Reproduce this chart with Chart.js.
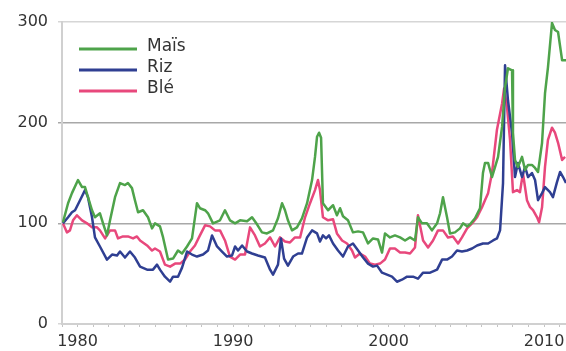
<!DOCTYPE html>
<html>
<head>
<meta charset="utf-8">
<script src="https://cdn.jsdelivr.net/npm/chart.js@4.4.1/dist/chart.umd.min.js"></script>
<style>
  html, body { margin: 0; padding: 0; background: #fff; }
  #wrap { width: 566px; height: 351px; position: relative; }
</style>
</head>
<body>
<div id="wrap"><canvas id="chartPrix"></canvas></div>
<script>
// indices de prix (base 100 = 1979)
const seriesLabels = ['Maïs', 'Riz', 'Blé'];
const yTicks = [0, 100, 200, 300];
const xLabelYears = [1980, 1990, 2000, 2010];

const maisYears = [1979.06,1979.39,1979.64,1980.03,1980.29,1980.48,1980.67,1980.93,1981.12,1981.44,1981.64,1981.89,1982.09,1982.41,1982.73,1983.05,1983.24,1983.50,1983.69,1983.89,1984.21,1984.53,1984.79,1984.98,1985.30,1985.50,1985.82,1986.14,1986.46,1986.72,1987.04,1987.36,1987.68,1987.87,1988.20,1988.39,1988.71,1989.16,1989.48,1989.80,1990.13,1990.45,1990.90,1991.22,1991.54,1991.86,1992.18,1992.57,1992.89,1993.15,1993.34,1993.53,1993.79,1994.11,1994.43,1994.76,1995.08,1995.27,1995.40,1995.53,1995.66,1995.78,1996.11,1996.43,1996.68,1996.88,1997.07,1997.39,1997.71,1998.04,1998.36,1998.68,1999.00,1999.32,1999.58,1999.77,2000.09,2000.41,2000.74,2001.06,2001.38,2001.70,2001.89,2002.15,2002.47,2002.79,2003.12,2003.31,2003.50,2003.76,2003.95,2004.27,2004.59,2004.79,2005.05,2005.24,2005.56,2005.88,2006.07,2006.20,2006.40,2006.65,2006.85,2007.04,2007.30,2007.49,2007.68,2007.94,2008.00,2008.13,2008.32,2008.58,2008.78,2008.97,2009.22,2009.42,2009.61,2009.87,2010.06,2010.25,2010.51,2010.70,2010.90,2011.16,2011.41];
const maisValues = [101,120,130,143,136,136,126,113,106,110,100,88,103,126,140,138,140,135,123,111,113,106,95,100,97,86,64,65,73,70,77,85,120,115,113,110,100,103,113,103,100,103,102,106,99,91,90,93,105,120,113,103,93,96,105,120,143,166,186,190,185,120,113,118,108,115,107,103,91,92,91,80,85,84,71,90,86,88,86,83,86,83,106,100,100,93,100,110,126,106,90,91,95,100,97,99,105,115,150,160,160,146,156,166,196,235,254,252,190,163,156,166,153,158,158,155,151,180,229,255,299,292,290,262,262];

const rizYears = [1979.06,1979.39,1979.64,1979.84,1980.16,1980.48,1980.67,1980.93,1981.12,1981.44,1981.89,1982.22,1982.54,1982.73,1983.05,1983.37,1983.69,1984.02,1984.47,1984.85,1985.11,1985.30,1985.62,1985.95,1986.14,1986.46,1986.72,1987.04,1987.36,1987.68,1988.07,1988.39,1988.65,1988.97,1989.29,1989.61,1989.93,1990.13,1990.32,1990.58,1990.90,1991.22,1991.60,1992.05,1992.38,1992.57,1992.89,1993.08,1993.28,1993.53,1993.86,1994.18,1994.43,1994.76,1995.08,1995.40,1995.59,1995.78,1995.98,1996.17,1996.43,1996.75,1997.07,1997.39,1997.71,1998.04,1998.36,1998.68,1999.00,1999.26,1999.58,1999.90,2000.22,2000.54,2000.86,2001.19,2001.57,2001.89,2002.22,2002.67,2003.12,2003.44,2003.76,2004.08,2004.40,2004.72,2005.05,2005.37,2005.69,2006.07,2006.40,2006.72,2006.97,2007.17,2007.36,2007.49,2007.68,2007.94,2008.13,2008.32,2008.58,2008.78,2008.97,2009.22,2009.42,2009.61,2009.87,2010.06,2010.38,2010.57,2010.83,2011.03,2011.22,2011.41];
const rizValues = [100,106,111,113,123,133,126,106,86,77,64,69,68,72,66,72,66,57,54,54,59,54,47,42,47,47,56,72,69,67,69,73,88,77,72,67,68,77,73,78,72,70,68,66,54,49,59,85,65,58,67,70,70,86,93,90,82,88,85,88,80,73,67,77,80,73,66,60,57,58,51,49,47,42,44,47,47,45,51,51,54,64,64,67,73,72,73,75,78,80,80,83,85,93,140,257,222,190,146,160,146,156,146,150,143,123,130,136,131,126,141,151,146,140];

const bleYears = [1979.06,1979.32,1979.51,1979.71,1979.96,1980.29,1980.61,1980.93,1981.25,1981.44,1981.77,1982.09,1982.41,1982.60,1982.92,1983.24,1983.57,1983.82,1984.02,1984.47,1984.79,1984.98,1985.30,1985.62,1985.95,1986.27,1986.59,1986.91,1987.23,1987.55,1987.87,1988.20,1988.52,1988.84,1989.16,1989.48,1989.80,1990.13,1990.45,1990.77,1991.09,1991.41,1991.73,1992.05,1992.38,1992.70,1993.02,1993.34,1993.66,1993.98,1994.31,1994.63,1994.95,1995.27,1995.46,1995.59,1995.78,1996.11,1996.43,1996.68,1997.01,1997.33,1997.65,1997.84,1998.16,1998.49,1998.81,1999.13,1999.45,1999.77,2000.09,2000.41,2000.74,2001.06,2001.38,2001.70,2001.89,2002.22,2002.54,2002.86,2003.18,2003.50,2003.82,2004.14,2004.47,2004.72,2005.05,2005.37,2005.69,2006.01,2006.20,2006.40,2006.65,2006.97,2007.30,2007.43,2007.62,2007.81,2008.00,2008.26,2008.45,2008.64,2008.90,2009.10,2009.29,2009.55,2009.68,2009.87,2010.06,2010.25,2010.51,2010.70,2010.90,2011.16,2011.35];
const bleValues = [100,91,93,103,108,103,100,96,96,93,85,93,93,85,87,87,85,87,83,78,73,75,72,59,57,60,60,64,72,78,88,98,97,93,93,83,67,64,69,69,96,88,77,80,86,77,86,82,81,86,86,106,120,133,143,133,106,103,104,90,83,80,73,66,70,67,60,59,60,64,75,75,71,71,70,76,108,83,76,83,93,93,86,87,80,86,95,100,106,116,123,130,150,193,219,234,215,183,131,133,131,150,123,116,113,106,101,116,156,183,195,190,180,163,166];

const colors = ['#4ea34a', '#2f3f92', '#e8487c'];

function toPoints(xs, ys){ return xs.map((x, i) => ({ x, y: ys[i] })); }

// légende dessinée dans la zone du graphique
const insideLegend = {
  id: 'insideLegend',
  afterDraw(chart){
    const ctx = chart.ctx;
    ctx.save();
    ctx.font = '17px "DejaVu Sans", sans-serif';
    ctx.textBaseline = 'middle';
    chart.data.datasets.forEach((ds, i) => {
      const y = 49 + i * 21;
      ctx.strokeStyle = ds.borderColor;
      ctx.lineWidth = 3;
      ctx.beginPath(); ctx.moveTo(79, y); ctx.lineTo(137, y); ctx.stroke();
      ctx.fillStyle = '#333';
      ctx.fillText(ds.label, 147, y - 2);
    });
    ctx.restore();
  }
};

function gridColor(v){
  if (v === 100 || v === 200) return '#a8a8a8';
  return '#d6d6d6';
}

document.addEventListener('DOMContentLoaded', () => {
  const ctx = document.getElementById('chartPrix').getContext('2d');
  const allYears = [maisYears, rizYears, bleYears];
  const allValues = [maisValues, rizValues, bleValues];

  new Chart(ctx, {
    type: 'line',
    data: {
      datasets: seriesLabels.map((label, i) => ({
        label,
        data: toPoints(allYears[i], allValues[i]),
        borderColor: colors[i],
        borderWidth: 2.5,
        pointRadius: 0,
        tension: 0,
        borderJoinStyle: 'round',
        fill: false
      }))
    },
    options: {
      responsive: true,
      maintainAspectRatio: false,
      animation: false,
      layout: { padding: { top: 22, right: 0, left: 0, bottom: 0 } },
      plugins: { legend: { display: false }, tooltip: { enabled: false } },
      scales: {
        x: {
          type: 'linear',
          min: 1979,
          max: 2011.41,
          afterFit: s => { s.height = 27; },
          border: { color: '#d0d0d0', width: 2 },
          grid: { drawOnChartArea: false, drawTicks: true, tickLength: 3, color: '#c4c4c4' },
          ticks: {
            stepSize: 1,
            includeBounds: false,
            autoSkip: false,
            maxRotation: 0,
            padding: 5,
            color: '#333',
            font: { family: '"DejaVu Sans", sans-serif', size: 16 },
            callback: v => xLabelYears.includes(v) ? String(v) : ''
          }
        },
        y: {
          min: yTicks[0],
          max: yTicks[yTicks.length - 1],
          afterFit: s => { s.width = 62; },
          border: { color: '#d0d0d0', width: 2 },
          grid: {
            drawTicks: true,
            tickLength: 4,
            lineWidth: 1.5,
            color: c => gridColor(c.tick ? c.tick.value : null)
          },
          ticks: {
            stepSize: 100,
            padding: 10,
            color: '#333',
            font: { family: '"DejaVu Sans", sans-serif', size: 16 }
          }
        }
      }
    },
    plugins: [insideLegend]
  });
});
</script>
</body>
</html>
